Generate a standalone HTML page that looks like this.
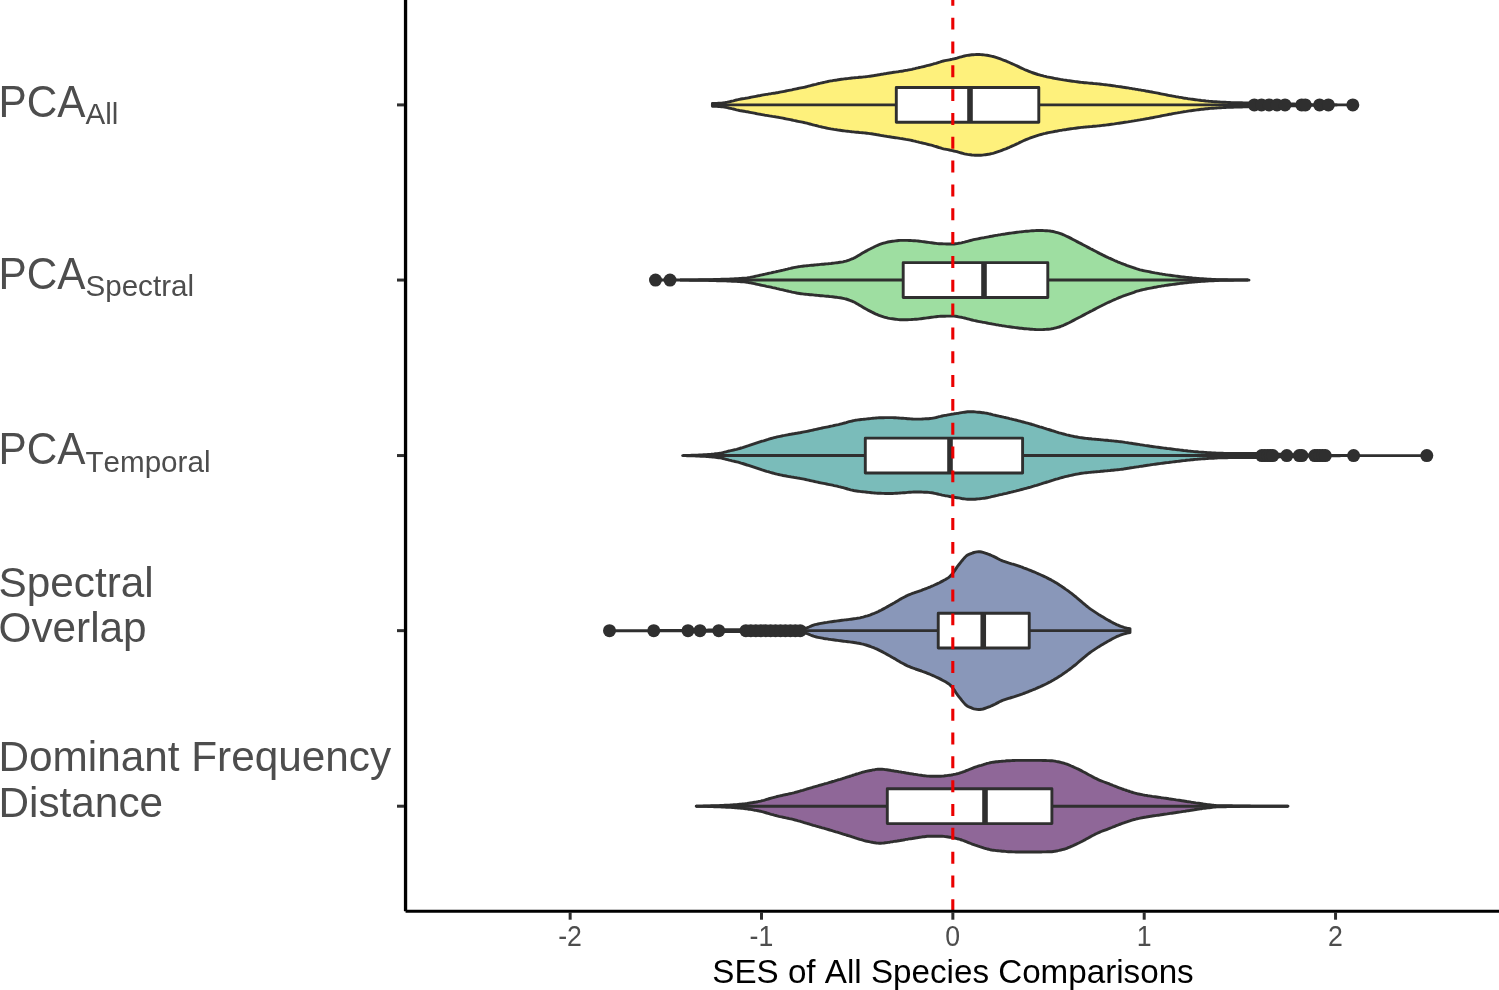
<!DOCTYPE html>
<html lang="en"><head><meta charset="utf-8"><title>SES of All Species Comparisons</title>
<style>
html,body{margin:0;padding:0;background:#fff;}
body{width:1499px;height:990px;overflow:hidden;}
svg{display:block;font-kerning:none;font-family:"Liberation Sans",sans-serif;}
.tk{font-size:26.7px;fill:#4D4D4D;}
.ttl{font-size:33.2px;fill:#000;}
.yl{font-size:42.3px;fill:#4D4D4D;}
.yl.sub{font-size:29.6px;}
</style></head><body>
<svg width="1499" height="990" viewBox="0 0 1499 990">
<rect width="1499" height="990" fill="#fff"/>
<path d="M712.4,103.5L713.9,103.5L715.4,103.4L716.9,103.4L718.4,103.3L719.9,103.2L721.4,103.1L722.9,102.9L724.4,102.8L725.9,102.5L727.4,102.2L728.9,101.8L730.4,101.5L731.9,101.1L733.4,100.8L734.9,100.4L736.4,100.0L737.9,99.7L739.4,99.3L740.9,99.0L742.4,98.8L743.9,98.6L745.4,98.3L746.9,98.1L748.4,97.8L749.9,97.5L751.4,97.2L752.9,96.9L754.4,96.6L755.9,96.3L757.4,96.0L758.9,95.7L760.4,95.5L761.9,95.2L763.4,94.9L764.9,94.6L766.4,94.4L767.9,94.2L769.4,93.9L770.9,93.7L772.4,93.4L773.9,93.2L775.4,93.0L776.9,92.7L778.4,92.5L779.9,92.2L781.4,91.9L782.9,91.6L784.4,91.3L785.9,91.0L787.4,90.7L788.9,90.4L790.4,90.1L791.9,89.8L793.4,89.4L794.9,89.1L796.4,88.8L797.9,88.5L799.4,88.2L800.9,87.9L802.4,87.6L803.9,87.3L805.4,87.0L806.9,86.6L808.4,86.2L809.9,85.8L811.4,85.4L812.9,85.0L814.4,84.6L815.9,84.3L817.4,83.9L818.9,83.5L820.4,83.2L821.9,82.8L823.4,82.5L824.9,82.2L826.4,81.8L827.9,81.5L829.4,81.2L830.9,80.9L832.4,80.7L833.9,80.4L835.4,80.2L836.9,80.0L838.4,79.7L839.9,79.5L841.4,79.3L842.9,79.1L844.4,78.9L845.9,78.7L847.4,78.6L848.9,78.4L850.4,78.2L851.9,78.0L853.4,77.9L854.9,77.7L856.4,77.6L857.9,77.5L859.4,77.3L860.9,77.2L862.4,77.1L863.9,76.9L865.4,76.8L866.9,76.6L868.4,76.4L869.9,76.2L871.4,76.0L872.9,75.8L874.4,75.5L875.9,75.3L877.4,75.0L878.9,74.8L880.4,74.5L881.9,74.2L883.4,74.0L884.9,73.7L886.4,73.5L887.9,73.2L889.4,73.0L890.9,72.8L892.4,72.5L893.9,72.3L895.4,72.1L896.9,71.9L898.4,71.7L899.9,71.4L901.4,71.2L902.9,71.0L904.4,70.7L905.9,70.4L907.4,70.2L908.9,69.9L910.4,69.6L911.9,69.3L913.4,68.9L914.9,68.6L916.4,68.2L917.9,67.9L919.4,67.5L920.9,67.2L922.4,66.8L923.9,66.5L925.4,66.1L926.9,65.7L928.4,65.3L929.9,65.0L931.4,64.6L932.9,64.2L934.4,63.7L935.9,63.3L937.4,62.8L938.9,62.3L940.4,61.9L941.9,61.4L943.4,61.0L944.9,60.7L946.4,60.4L947.9,60.1L949.4,59.8L950.9,59.5L952.4,59.2L953.9,58.8L955.4,58.5L956.9,58.1L958.4,57.6L959.9,57.2L961.4,56.8L962.9,56.4L964.4,56.0L965.9,55.7L967.4,55.4L968.9,55.2L970.4,55.0L971.9,54.8L973.4,54.7L974.9,54.6L976.4,54.5L977.9,54.5L979.4,54.5L980.9,54.6L982.4,54.7L983.9,54.9L985.4,55.1L986.9,55.3L988.4,55.5L989.9,55.8L991.4,56.2L992.9,56.5L994.4,56.9L995.9,57.4L997.4,57.9L998.9,58.4L1000.4,58.9L1001.9,59.5L1003.4,60.1L1004.9,60.6L1006.4,61.2L1007.9,61.9L1009.4,62.5L1010.9,63.2L1012.4,63.9L1013.9,64.5L1015.4,65.2L1016.9,65.9L1018.4,66.6L1019.9,67.4L1021.4,68.1L1022.9,68.8L1024.4,69.5L1025.9,70.1L1027.4,70.7L1028.9,71.3L1030.4,71.9L1031.9,72.5L1033.4,73.0L1034.9,73.5L1036.4,74.0L1037.9,74.5L1039.4,74.9L1040.9,75.3L1042.4,75.7L1043.9,76.1L1045.4,76.4L1046.9,76.8L1048.4,77.1L1049.9,77.4L1051.4,77.7L1052.9,78.0L1054.4,78.3L1055.9,78.6L1057.4,78.8L1058.9,79.1L1060.4,79.4L1061.9,79.6L1063.4,79.9L1064.9,80.1L1066.4,80.3L1067.9,80.6L1069.4,80.8L1070.9,81.0L1072.4,81.2L1073.9,81.4L1075.4,81.6L1076.9,81.8L1078.4,82.0L1079.9,82.2L1081.4,82.4L1082.9,82.5L1084.4,82.7L1085.9,82.8L1087.4,82.9L1088.9,83.1L1090.4,83.2L1091.9,83.3L1093.4,83.5L1094.9,83.6L1096.4,83.7L1097.9,83.9L1099.4,84.0L1100.9,84.2L1102.4,84.4L1103.9,84.6L1105.4,84.7L1106.9,84.9L1108.4,85.1L1109.9,85.3L1111.4,85.5L1112.9,85.7L1114.4,85.9L1115.9,86.2L1117.4,86.4L1118.9,86.6L1120.4,86.8L1121.9,87.0L1123.4,87.3L1124.9,87.5L1126.4,87.7L1127.9,87.9L1129.4,88.2L1130.9,88.4L1132.4,88.7L1133.9,88.9L1135.4,89.2L1136.9,89.4L1138.4,89.7L1139.9,89.9L1141.4,90.2L1142.9,90.4L1144.4,90.7L1145.9,91.0L1147.4,91.2L1148.9,91.5L1150.4,91.8L1151.9,92.0L1153.4,92.3L1154.9,92.6L1156.4,92.9L1157.9,93.2L1159.4,93.5L1160.9,93.8L1162.4,94.1L1163.9,94.4L1165.4,94.7L1166.9,95.0L1168.4,95.3L1169.9,95.6L1171.4,95.8L1172.9,96.1L1174.4,96.4L1175.9,96.7L1177.4,96.9L1178.9,97.2L1180.4,97.4L1181.9,97.7L1183.4,98.0L1184.9,98.2L1186.4,98.4L1187.9,98.7L1189.4,98.9L1190.9,99.1L1192.4,99.3L1193.9,99.5L1195.4,99.7L1196.9,99.9L1198.4,100.1L1199.9,100.3L1201.4,100.5L1202.9,100.6L1204.4,100.8L1205.9,101.0L1207.4,101.1L1208.9,101.3L1210.4,101.4L1211.9,101.5L1213.4,101.6L1214.9,101.7L1216.4,101.8L1217.9,101.9L1219.4,102.0L1220.9,102.1L1222.4,102.2L1223.9,102.3L1225.4,102.3L1226.9,102.4L1228.4,102.5L1229.9,102.5L1231.4,102.6L1232.9,102.6L1234.4,102.7L1235.9,102.7L1237.4,102.7L1238.9,102.8L1240.4,102.8L1241.9,102.8L1243.4,102.9L1244.9,102.9L1246.4,102.9L1247.9,103.0L1249.4,103.0L1250.9,103.0L1252.4,103.0L1253.9,103.1L1255.4,103.1L1256.9,103.1L1258.4,103.2L1259.9,103.2L1261.4,103.2L1262.9,103.3L1264.4,103.3L1265.9,103.3L1267.4,103.4L1268.9,103.4L1270.4,103.4L1271.9,103.5L1273.4,103.5L1274.9,103.5L1276.4,103.6L1277.9,103.6L1279.4,103.6L1280.9,103.7L1282.4,103.7L1283.9,103.8L1285.4,103.8L1286.9,103.8L1288.4,103.9L1289.9,103.9L1291.4,103.9L1292.9,104.0L1294.4,104.0L1295.9,104.1L1297.4,104.1L1298.9,104.2L1300.4,104.2L1301.9,104.3L1303.4,104.3L1304.9,104.4L1306.4,104.4L1307.9,104.4L1309.4,104.5L1310.9,104.5L1312.4,104.6L1313.9,104.6L1315.4,104.6L1316.9,104.7L1318.4,104.7L1319.9,104.7L1321.4,104.7L1322.9,104.7L1324.4,104.7L1325.9,104.8L1327.4,104.8L1328.9,104.8L1330.4,104.8L1331.9,104.8L1333.4,104.8L1334.9,104.8L1336.4,104.8L1337.9,104.9L1339.4,104.9L1340.9,104.9L1342.4,104.9L1343.9,104.9L1345.4,104.9L1346.9,104.9L1348.4,104.9L1349.9,104.9L1351.4,104.9L1352.5,104.9L1352.5,104.9L1351.4,104.9L1349.9,104.9L1348.4,104.9L1346.9,104.9L1345.4,104.9L1343.9,104.9L1342.4,104.9L1340.9,104.9L1339.4,104.9L1337.9,104.9L1336.4,105.0L1334.9,105.0L1333.4,105.0L1331.9,105.0L1330.4,105.0L1328.9,105.0L1327.4,105.0L1325.9,105.0L1324.4,105.1L1322.9,105.1L1321.4,105.1L1319.9,105.1L1318.4,105.1L1316.9,105.1L1315.4,105.2L1313.9,105.2L1312.4,105.2L1310.9,105.3L1309.4,105.3L1307.9,105.4L1306.4,105.4L1304.9,105.4L1303.4,105.5L1301.9,105.5L1300.4,105.6L1298.9,105.6L1297.4,105.7L1295.9,105.7L1294.4,105.8L1292.9,105.8L1291.4,105.9L1289.9,105.9L1288.4,105.9L1286.9,106.0L1285.4,106.0L1283.9,106.0L1282.4,106.1L1280.9,106.1L1279.4,106.2L1277.9,106.2L1276.4,106.2L1274.9,106.3L1273.4,106.3L1271.9,106.3L1270.4,106.4L1268.9,106.4L1267.4,106.4L1265.9,106.5L1264.4,106.5L1262.9,106.5L1261.4,106.6L1259.9,106.6L1258.4,106.6L1256.9,106.7L1255.4,106.7L1253.9,106.7L1252.4,106.8L1250.9,106.8L1249.4,106.8L1247.9,106.8L1246.4,106.9L1244.9,106.9L1243.4,106.9L1241.9,107.0L1240.4,107.0L1238.9,107.0L1237.4,107.1L1235.9,107.1L1234.4,107.1L1232.9,107.2L1231.4,107.2L1229.9,107.3L1228.4,107.3L1226.9,107.4L1225.4,107.5L1223.9,107.5L1222.4,107.6L1220.9,107.7L1219.4,107.8L1217.9,107.9L1216.4,108.0L1214.9,108.1L1213.4,108.2L1211.9,108.3L1210.4,108.4L1208.9,108.5L1207.4,108.7L1205.9,108.8L1204.4,109.0L1202.9,109.2L1201.4,109.3L1199.9,109.5L1198.4,109.7L1196.9,109.9L1195.4,110.1L1193.9,110.3L1192.4,110.5L1190.9,110.7L1189.4,110.9L1187.9,111.1L1186.4,111.4L1184.9,111.6L1183.4,111.8L1181.9,112.1L1180.4,112.4L1178.9,112.6L1177.4,112.9L1175.9,113.1L1174.4,113.4L1172.9,113.7L1171.4,114.0L1169.9,114.2L1168.4,114.5L1166.9,114.8L1165.4,115.1L1163.9,115.4L1162.4,115.7L1160.9,116.0L1159.4,116.3L1157.9,116.6L1156.4,116.9L1154.9,117.2L1153.4,117.5L1151.9,117.8L1150.4,118.0L1148.9,118.3L1147.4,118.6L1145.9,118.8L1144.4,119.1L1142.9,119.4L1141.4,119.6L1139.9,119.9L1138.4,120.1L1136.9,120.4L1135.4,120.6L1133.9,120.9L1132.4,121.1L1130.9,121.4L1129.4,121.6L1127.9,121.9L1126.4,122.1L1124.9,122.3L1123.4,122.5L1121.9,122.8L1120.4,123.0L1118.9,123.2L1117.4,123.4L1115.9,123.6L1114.4,123.9L1112.9,124.1L1111.4,124.3L1109.9,124.5L1108.4,124.7L1106.9,124.9L1105.4,125.1L1103.9,125.2L1102.4,125.4L1100.9,125.6L1099.4,125.8L1097.9,125.9L1096.4,126.1L1094.9,126.2L1093.4,126.3L1091.9,126.5L1090.4,126.6L1088.9,126.7L1087.4,126.9L1085.9,127.0L1084.4,127.1L1082.9,127.3L1081.4,127.4L1079.9,127.6L1078.4,127.8L1076.9,128.0L1075.4,128.2L1073.9,128.4L1072.4,128.6L1070.9,128.8L1069.4,129.0L1067.9,129.2L1066.4,129.5L1064.9,129.7L1063.4,129.9L1061.9,130.2L1060.4,130.4L1058.9,130.7L1057.4,131.0L1055.9,131.2L1054.4,131.5L1052.9,131.8L1051.4,132.1L1049.9,132.4L1048.4,132.7L1046.9,133.0L1045.4,133.4L1043.9,133.7L1042.4,134.1L1040.9,134.5L1039.4,134.9L1037.9,135.3L1036.4,135.8L1034.9,136.3L1033.4,136.8L1031.9,137.3L1030.4,137.9L1028.9,138.5L1027.4,139.1L1025.9,139.7L1024.4,140.3L1022.9,141.0L1021.4,141.7L1019.9,142.4L1018.4,143.2L1016.9,143.9L1015.4,144.6L1013.9,145.3L1012.4,145.9L1010.9,146.6L1009.4,147.3L1007.9,147.9L1006.4,148.6L1004.9,149.2L1003.4,149.7L1001.9,150.3L1000.4,150.9L998.9,151.4L997.4,151.9L995.9,152.4L994.4,152.9L992.9,153.3L991.4,153.6L989.9,154.0L988.4,154.3L986.9,154.5L985.4,154.7L983.9,154.9L982.4,155.1L980.9,155.2L979.4,155.3L977.9,155.3L976.4,155.3L974.9,155.2L973.4,155.1L971.9,155.0L970.4,154.8L968.9,154.6L967.4,154.4L965.9,154.1L964.4,153.8L962.9,153.4L961.4,153.0L959.9,152.6L958.4,152.2L956.9,151.7L955.4,151.3L953.9,151.0L952.4,150.6L950.9,150.3L949.4,150.0L947.9,149.7L946.4,149.4L944.9,149.1L943.4,148.8L941.9,148.4L940.4,147.9L938.9,147.5L937.4,147.0L935.9,146.5L934.4,146.1L932.9,145.6L931.4,145.2L929.9,144.8L928.4,144.5L926.9,144.1L925.4,143.7L923.9,143.3L922.4,143.0L920.9,142.6L919.4,142.3L917.9,141.9L916.4,141.6L914.9,141.2L913.4,140.9L911.9,140.5L910.4,140.2L908.9,139.9L907.4,139.6L905.9,139.4L904.4,139.1L902.9,138.8L901.4,138.6L899.9,138.4L898.4,138.1L896.9,137.9L895.4,137.7L893.9,137.5L892.4,137.3L890.9,137.0L889.4,136.8L887.9,136.6L886.4,136.3L884.9,136.1L883.4,135.8L881.9,135.6L880.4,135.3L878.9,135.0L877.4,134.8L875.9,134.5L874.4,134.3L872.9,134.0L871.4,133.8L869.9,133.6L868.4,133.4L866.9,133.2L865.4,133.0L863.9,132.9L862.4,132.7L860.9,132.6L859.4,132.5L857.9,132.3L856.4,132.2L854.9,132.1L853.4,131.9L851.9,131.8L850.4,131.6L848.9,131.4L847.4,131.2L845.9,131.1L844.4,130.9L842.9,130.7L841.4,130.5L839.9,130.3L838.4,130.1L836.9,129.8L835.4,129.6L833.9,129.4L832.4,129.1L830.9,128.9L829.4,128.6L827.9,128.3L826.4,128.0L824.9,127.6L823.4,127.3L821.9,127.0L820.4,126.6L818.9,126.3L817.4,125.9L815.9,125.5L814.4,125.2L812.9,124.8L811.4,124.4L809.9,124.0L808.4,123.6L806.9,123.2L805.4,122.8L803.9,122.5L802.4,122.2L800.9,121.9L799.4,121.6L797.9,121.3L796.4,121.0L794.9,120.7L793.4,120.4L791.9,120.0L790.4,119.7L788.9,119.4L787.4,119.1L785.9,118.8L784.4,118.5L782.9,118.2L781.4,117.9L779.9,117.6L778.4,117.3L776.9,117.1L775.4,116.8L773.9,116.6L772.4,116.4L770.9,116.1L769.4,115.9L767.9,115.6L766.4,115.4L764.9,115.2L763.4,114.9L761.9,114.6L760.4,114.3L758.9,114.1L757.4,113.8L755.9,113.5L754.4,113.2L752.9,112.9L751.4,112.6L749.9,112.3L748.4,112.0L746.9,111.7L745.4,111.5L743.9,111.2L742.4,111.0L740.9,110.8L739.4,110.5L737.9,110.1L736.4,109.8L734.9,109.4L733.4,109.0L731.9,108.7L730.4,108.3L728.9,108.0L727.4,107.6L725.9,107.3L724.4,107.0L722.9,106.9L721.4,106.7L719.9,106.6L718.4,106.5L716.9,106.4L715.4,106.4L713.9,106.3L712.4,106.3Z" fill="#FEF17C" stroke="#2F2F2F" stroke-width="2.9" stroke-linejoin="round"/>
<path d="M712.5,104.9H896.3M1038.8,104.9H1250" stroke="#2F2F2F" stroke-width="2.9" fill="none"/>
<rect x="896.3" y="87.50" width="142.50" height="34.8" fill="#fff" stroke="#2F2F2F" stroke-width="2.9" stroke-linejoin="round"/>
<path d="M970.0,87.50V122.30" stroke="#2F2F2F" stroke-width="5.6"/>
<circle cx="1254.3" cy="104.9" r="6.5" fill="#2F2F2F"/>
<circle cx="1261.5" cy="104.9" r="6.5" fill="#2F2F2F"/>
<circle cx="1269" cy="104.9" r="6.5" fill="#2F2F2F"/>
<circle cx="1277" cy="104.9" r="6.5" fill="#2F2F2F"/>
<circle cx="1285" cy="104.9" r="6.5" fill="#2F2F2F"/>
<circle cx="1301.7" cy="104.9" r="6.5" fill="#2F2F2F"/>
<circle cx="1305.3" cy="104.9" r="6.5" fill="#2F2F2F"/>
<circle cx="1319.6" cy="104.9" r="6.5" fill="#2F2F2F"/>
<circle cx="1328.4" cy="104.9" r="6.5" fill="#2F2F2F"/>
<circle cx="1352.8" cy="104.9" r="6.5" fill="#2F2F2F"/>
<path d="M655.5,280.1L657.0,280.0L658.5,280.0L660.0,280.0L661.5,280.0L663.0,280.0L664.5,280.0L666.0,280.0L667.5,280.0L669.0,280.0L670.5,280.0L672.0,280.0L673.5,280.0L675.0,280.0L676.5,280.0L678.0,280.0L679.5,280.0L681.0,280.0L682.5,280.0L684.0,280.0L685.5,280.0L687.0,280.0L688.5,280.0L690.0,279.9L691.5,279.9L693.0,279.9L694.5,279.9L696.0,279.9L697.5,279.9L699.0,279.8L700.5,279.8L702.0,279.8L703.5,279.7L705.0,279.7L706.5,279.7L708.0,279.7L709.5,279.6L711.0,279.6L712.5,279.6L714.0,279.5L715.5,279.5L717.0,279.4L718.5,279.4L720.0,279.4L721.5,279.3L723.0,279.3L724.5,279.2L726.0,279.2L727.5,279.1L729.0,279.1L730.5,279.0L732.0,278.9L733.5,278.9L735.0,278.8L736.5,278.7L738.0,278.6L739.5,278.5L741.0,278.4L742.5,278.3L744.0,278.2L745.5,278.1L747.0,277.9L748.5,277.6L750.0,277.4L751.5,277.1L753.0,276.8L754.5,276.5L756.0,276.1L757.5,275.8L759.0,275.5L760.5,275.1L762.0,274.8L763.5,274.5L765.0,274.2L766.5,273.8L768.0,273.5L769.5,273.2L771.0,272.9L772.5,272.5L774.0,272.2L775.5,271.9L777.0,271.5L778.5,271.2L780.0,270.8L781.5,270.5L783.0,270.2L784.5,269.8L786.0,269.4L787.5,269.1L789.0,268.7L790.5,268.4L792.0,268.0L793.5,267.7L795.0,267.4L796.5,267.1L798.0,266.8L799.5,266.6L801.0,266.4L802.5,266.2L804.0,266.0L805.5,265.9L807.0,265.7L808.5,265.6L810.0,265.4L811.5,265.3L813.0,265.2L814.5,265.0L816.0,264.9L817.5,264.7L819.0,264.6L820.5,264.4L822.0,264.3L823.5,264.2L825.0,264.0L826.5,263.9L828.0,263.8L829.5,263.6L831.0,263.5L832.5,263.3L834.0,263.1L835.5,262.9L837.0,262.8L838.5,262.5L840.0,262.3L841.5,262.1L843.0,261.8L844.5,261.4L846.0,261.1L847.5,260.6L849.0,260.1L850.5,259.5L852.0,258.9L853.5,258.3L855.0,257.6L856.5,256.7L858.0,255.8L859.5,254.9L861.0,254.0L862.5,253.1L864.0,252.2L865.5,251.4L867.0,250.6L868.5,249.7L870.0,249.0L871.5,248.2L873.0,247.5L874.5,246.7L876.0,246.0L877.5,245.4L879.0,244.7L880.5,244.2L882.0,243.7L883.5,243.2L885.0,242.8L886.5,242.4L888.0,242.0L889.5,241.7L891.0,241.5L892.5,241.3L894.0,241.1L895.5,240.9L897.0,240.7L898.5,240.5L900.0,240.4L901.5,240.4L903.0,240.4L904.5,240.4L906.0,240.4L907.5,240.4L909.0,240.5L910.5,240.5L912.0,240.6L913.5,240.7L915.0,240.8L916.5,240.9L918.0,241.0L919.5,241.2L921.0,241.4L922.5,241.6L924.0,241.8L925.5,242.0L927.0,242.2L928.5,242.4L930.0,242.6L931.5,242.8L933.0,243.0L934.5,243.2L936.0,243.4L937.5,243.6L939.0,243.7L940.5,243.8L942.0,243.8L943.5,243.9L945.0,243.9L946.5,244.0L948.0,244.0L949.5,244.0L951.0,244.0L952.5,244.0L954.0,244.0L955.5,243.8L957.0,243.6L958.5,243.3L960.0,243.1L961.5,242.8L963.0,242.4L964.5,242.1L966.0,241.7L967.5,241.3L969.0,240.9L970.5,240.5L972.0,240.1L973.5,239.7L975.0,239.4L976.5,239.1L978.0,238.8L979.5,238.5L981.0,238.2L982.5,237.9L984.0,237.7L985.5,237.4L987.0,237.1L988.5,236.8L990.0,236.5L991.5,236.3L993.0,236.0L994.5,235.7L996.0,235.4L997.5,235.2L999.0,234.9L1000.5,234.7L1002.0,234.4L1003.5,234.2L1005.0,234.0L1006.5,233.7L1008.0,233.5L1009.5,233.3L1011.0,233.1L1012.5,232.9L1014.0,232.7L1015.5,232.5L1017.0,232.3L1018.5,232.1L1020.0,231.9L1021.5,231.8L1023.0,231.6L1024.5,231.4L1026.0,231.3L1027.5,231.2L1029.0,231.1L1030.5,230.9L1032.0,230.8L1033.5,230.7L1035.0,230.6L1036.5,230.5L1038.0,230.5L1039.5,230.5L1041.0,230.5L1042.5,230.5L1044.0,230.6L1045.5,230.7L1047.0,230.8L1048.5,230.9L1050.0,231.0L1051.5,231.3L1053.0,231.5L1054.5,231.9L1056.0,232.3L1057.5,232.7L1059.0,233.1L1060.5,233.6L1062.0,234.2L1063.5,234.8L1065.0,235.5L1066.5,236.2L1068.0,236.9L1069.5,237.6L1071.0,238.4L1072.5,239.2L1074.0,240.0L1075.5,240.8L1077.0,241.6L1078.5,242.4L1080.0,243.1L1081.5,243.9L1083.0,244.7L1084.5,245.5L1086.0,246.3L1087.5,247.1L1089.0,247.9L1090.5,248.7L1092.0,249.4L1093.5,250.2L1095.0,251.0L1096.5,251.8L1098.0,252.6L1099.5,253.4L1101.0,254.1L1102.5,254.9L1104.0,255.6L1105.5,256.4L1107.0,257.1L1108.5,257.8L1110.0,258.4L1111.5,259.1L1113.0,259.8L1114.5,260.5L1116.0,261.1L1117.5,261.8L1119.0,262.4L1120.5,263.0L1122.0,263.6L1123.5,264.2L1125.0,264.7L1126.5,265.3L1128.0,265.8L1129.5,266.3L1131.0,266.8L1132.5,267.3L1134.0,267.8L1135.5,268.4L1137.0,268.9L1138.5,269.3L1140.0,269.8L1141.5,270.1L1143.0,270.5L1144.5,270.8L1146.0,271.1L1147.5,271.4L1149.0,271.7L1150.5,272.0L1152.0,272.3L1153.5,272.6L1155.0,272.9L1156.5,273.1L1158.0,273.4L1159.5,273.7L1161.0,273.9L1162.5,274.2L1164.0,274.4L1165.5,274.7L1167.0,274.9L1168.5,275.1L1170.0,275.3L1171.5,275.5L1173.0,275.7L1174.5,275.9L1176.0,276.1L1177.5,276.3L1179.0,276.5L1180.5,276.7L1182.0,276.9L1183.5,277.0L1185.0,277.2L1186.5,277.4L1188.0,277.5L1189.5,277.7L1191.0,277.8L1192.5,278.0L1194.0,278.1L1195.5,278.2L1197.0,278.4L1198.5,278.5L1200.0,278.6L1201.5,278.7L1203.0,278.8L1204.5,278.9L1206.0,279.0L1207.5,279.1L1209.0,279.2L1210.5,279.3L1212.0,279.4L1213.5,279.4L1215.0,279.5L1216.5,279.6L1218.0,279.6L1219.5,279.7L1221.0,279.7L1222.5,279.8L1224.0,279.8L1225.5,279.8L1227.0,279.8L1228.5,279.9L1230.0,279.9L1231.5,279.9L1233.0,279.9L1234.5,280.0L1236.0,280.0L1237.5,280.0L1239.0,280.0L1240.5,280.0L1242.0,280.0L1243.5,280.0L1245.0,280.0L1246.5,280.0L1248.0,280.0L1249.0,280.1L1249.0,280.1L1248.0,280.1L1246.5,280.1L1245.0,280.1L1243.5,280.1L1242.0,280.1L1240.5,280.1L1239.0,280.1L1237.5,280.1L1236.0,280.1L1234.5,280.1L1233.0,280.2L1231.5,280.2L1230.0,280.2L1228.5,280.2L1227.0,280.3L1225.5,280.3L1224.0,280.3L1222.5,280.3L1221.0,280.4L1219.5,280.4L1218.0,280.5L1216.5,280.5L1215.0,280.6L1213.5,280.7L1212.0,280.7L1210.5,280.8L1209.0,280.9L1207.5,281.0L1206.0,281.1L1204.5,281.2L1203.0,281.3L1201.5,281.4L1200.0,281.5L1198.5,281.6L1197.0,281.7L1195.5,281.9L1194.0,282.0L1192.5,282.1L1191.0,282.3L1189.5,282.4L1188.0,282.6L1186.5,282.7L1185.0,282.9L1183.5,283.1L1182.0,283.2L1180.5,283.4L1179.0,283.6L1177.5,283.8L1176.0,284.0L1174.5,284.2L1173.0,284.4L1171.5,284.6L1170.0,284.8L1168.5,285.0L1167.0,285.2L1165.5,285.4L1164.0,285.7L1162.5,285.9L1161.0,286.2L1159.5,286.4L1158.0,286.7L1156.5,287.0L1155.0,287.2L1153.5,287.5L1152.0,287.8L1150.5,288.1L1149.0,288.4L1147.5,288.7L1146.0,289.0L1144.5,289.3L1143.0,289.6L1141.5,290.0L1140.0,290.4L1138.5,290.8L1137.0,291.2L1135.5,291.7L1134.0,292.3L1132.5,292.8L1131.0,293.3L1129.5,293.8L1128.0,294.3L1126.5,294.8L1125.0,295.4L1123.5,295.9L1122.0,296.5L1120.5,297.1L1119.0,297.7L1117.5,298.3L1116.0,299.0L1114.5,299.6L1113.0,300.3L1111.5,301.0L1110.0,301.7L1108.5,302.3L1107.0,303.0L1105.5,303.7L1104.0,304.5L1102.5,305.2L1101.0,306.0L1099.5,306.7L1098.0,307.5L1096.5,308.3L1095.0,309.1L1093.5,309.9L1092.0,310.7L1090.5,311.4L1089.0,312.2L1087.5,313.0L1086.0,313.8L1084.5,314.6L1083.0,315.4L1081.5,316.2L1080.0,317.0L1078.5,317.7L1077.0,318.5L1075.5,319.3L1074.0,320.1L1072.5,320.9L1071.0,321.7L1069.5,322.5L1068.0,323.2L1066.5,323.9L1065.0,324.6L1063.5,325.3L1062.0,325.9L1060.5,326.5L1059.0,327.0L1057.5,327.4L1056.0,327.8L1054.5,328.2L1053.0,328.6L1051.5,328.8L1050.0,329.1L1048.5,329.2L1047.0,329.3L1045.5,329.4L1044.0,329.5L1042.5,329.6L1041.0,329.6L1039.5,329.6L1038.0,329.6L1036.5,329.6L1035.0,329.5L1033.5,329.4L1032.0,329.3L1030.5,329.2L1029.0,329.0L1027.5,328.9L1026.0,328.8L1024.5,328.7L1023.0,328.5L1021.5,328.3L1020.0,328.2L1018.5,328.0L1017.0,327.8L1015.5,327.6L1014.0,327.4L1012.5,327.2L1011.0,327.0L1009.5,326.8L1008.0,326.6L1006.5,326.4L1005.0,326.1L1003.5,325.9L1002.0,325.7L1000.5,325.4L999.0,325.2L997.5,324.9L996.0,324.7L994.5,324.4L993.0,324.1L991.5,323.8L990.0,323.6L988.5,323.3L987.0,323.0L985.5,322.7L984.0,322.4L982.5,322.2L981.0,321.9L979.5,321.6L978.0,321.3L976.5,321.0L975.0,320.7L973.5,320.4L972.0,320.0L970.5,319.6L969.0,319.2L967.5,318.8L966.0,318.4L964.5,318.0L963.0,317.7L961.5,317.3L960.0,317.1L958.5,316.8L957.0,316.5L955.5,316.3L954.0,316.1L952.5,316.1L951.0,316.1L949.5,316.1L948.0,316.1L946.5,316.1L945.0,316.2L943.5,316.2L942.0,316.3L940.5,316.3L939.0,316.4L937.5,316.5L936.0,316.7L934.5,316.9L933.0,317.1L931.5,317.3L930.0,317.5L928.5,317.7L927.0,317.9L925.5,318.1L924.0,318.3L922.5,318.5L921.0,318.7L919.5,318.9L918.0,319.1L916.5,319.2L915.0,319.3L913.5,319.4L912.0,319.5L910.5,319.6L909.0,319.6L907.5,319.7L906.0,319.7L904.5,319.7L903.0,319.7L901.5,319.7L900.0,319.7L898.5,319.6L897.0,319.4L895.5,319.2L894.0,319.0L892.5,318.8L891.0,318.6L889.5,318.4L888.0,318.1L886.5,317.7L885.0,317.3L883.5,316.9L882.0,316.4L880.5,315.9L879.0,315.4L877.5,314.7L876.0,314.1L874.5,313.4L873.0,312.6L871.5,311.9L870.0,311.1L868.5,310.4L867.0,309.5L865.5,308.7L864.0,307.9L862.5,307.0L861.0,306.1L859.5,305.2L858.0,304.3L856.5,303.4L855.0,302.5L853.5,301.8L852.0,301.2L850.5,300.6L849.0,300.0L847.5,299.5L846.0,299.0L844.5,298.7L843.0,298.3L841.5,298.0L840.0,297.8L838.5,297.6L837.0,297.3L835.5,297.2L834.0,297.0L832.5,296.8L831.0,296.6L829.5,296.5L828.0,296.3L826.5,296.2L825.0,296.1L823.5,295.9L822.0,295.8L820.5,295.7L819.0,295.5L817.5,295.4L816.0,295.2L814.5,295.1L813.0,294.9L811.5,294.8L810.0,294.7L808.5,294.5L807.0,294.4L805.5,294.2L804.0,294.1L802.5,293.9L801.0,293.7L799.5,293.5L798.0,293.3L796.5,293.0L795.0,292.7L793.5,292.4L792.0,292.1L790.5,291.7L789.0,291.4L787.5,291.0L786.0,290.7L784.5,290.3L783.0,289.9L781.5,289.6L780.0,289.3L778.5,288.9L777.0,288.6L775.5,288.2L774.0,287.9L772.5,287.6L771.0,287.2L769.5,286.9L768.0,286.6L766.5,286.3L765.0,285.9L763.5,285.6L762.0,285.3L760.5,285.0L759.0,284.6L757.5,284.3L756.0,284.0L754.5,283.6L753.0,283.3L751.5,283.0L750.0,282.7L748.5,282.5L747.0,282.2L745.5,282.0L744.0,281.9L742.5,281.8L741.0,281.7L739.5,281.6L738.0,281.5L736.5,281.4L735.0,281.3L733.5,281.2L732.0,281.2L730.5,281.1L729.0,281.0L727.5,281.0L726.0,280.9L724.5,280.9L723.0,280.8L721.5,280.8L720.0,280.7L718.5,280.7L717.0,280.7L715.5,280.6L714.0,280.6L712.5,280.5L711.0,280.5L709.5,280.5L708.0,280.4L706.5,280.4L705.0,280.4L703.5,280.4L702.0,280.3L700.5,280.3L699.0,280.3L697.5,280.2L696.0,280.2L694.5,280.2L693.0,280.2L691.5,280.2L690.0,280.2L688.5,280.1L687.0,280.1L685.5,280.1L684.0,280.1L682.5,280.1L681.0,280.1L679.5,280.1L678.0,280.1L676.5,280.1L675.0,280.1L673.5,280.1L672.0,280.1L670.5,280.1L669.0,280.1L667.5,280.1L666.0,280.1L664.5,280.1L663.0,280.1L661.5,280.1L660.0,280.1L658.5,280.1L657.0,280.1L655.5,280.1Z" fill="#9EDEA1" stroke="#2F2F2F" stroke-width="2.9" stroke-linejoin="round"/>
<path d="M680,280.05H903.2M1047.8,280.05H1248" stroke="#2F2F2F" stroke-width="2.9" fill="none"/>
<rect x="903.2" y="262.65" width="144.60" height="34.8" fill="#fff" stroke="#2F2F2F" stroke-width="2.9" stroke-linejoin="round"/>
<path d="M984.0,262.65V297.45" stroke="#2F2F2F" stroke-width="5.6"/>
<circle cx="655.5" cy="280.05" r="6.5" fill="#2F2F2F"/>
<circle cx="670" cy="280.05" r="6.5" fill="#2F2F2F"/>
<path d="M682.6,455.6L684.1,455.5L685.6,455.5L687.1,455.4L688.6,455.4L690.1,455.4L691.6,455.3L693.1,455.3L694.6,455.2L696.1,455.1L697.6,455.1L699.1,455.0L700.6,454.9L702.1,454.9L703.6,454.8L705.1,454.7L706.6,454.6L708.1,454.5L709.6,454.4L711.1,454.3L712.6,454.1L714.1,454.0L715.6,453.8L717.1,453.6L718.6,453.4L720.1,453.2L721.6,453.0L723.1,452.6L724.6,452.2L726.1,451.8L727.6,451.4L729.1,451.0L730.6,450.7L732.1,450.3L733.6,450.0L735.1,449.6L736.6,449.3L738.1,448.9L739.6,448.5L741.1,448.0L742.6,447.6L744.1,447.1L745.6,446.6L747.1,446.1L748.6,445.7L750.1,445.2L751.6,444.7L753.1,444.2L754.6,443.7L756.1,443.2L757.6,442.7L759.1,442.2L760.6,441.7L762.1,441.2L763.6,440.8L765.1,440.3L766.6,439.8L768.1,439.4L769.6,438.9L771.1,438.5L772.6,438.1L774.1,437.7L775.6,437.3L777.1,436.9L778.6,436.6L780.1,436.3L781.6,436.0L783.1,435.6L784.6,435.4L786.1,435.1L787.6,434.8L789.1,434.5L790.6,434.3L792.1,434.0L793.6,433.8L795.1,433.5L796.6,433.3L798.1,433.0L799.6,432.8L801.1,432.5L802.6,432.2L804.1,431.9L805.6,431.6L807.1,431.3L808.6,431.0L810.1,430.6L811.6,430.3L813.1,430.0L814.6,429.6L816.1,429.3L817.6,429.0L819.1,428.6L820.6,428.3L822.1,428.0L823.6,427.7L825.1,427.4L826.6,427.1L828.1,426.8L829.6,426.5L831.1,426.2L832.6,425.9L834.1,425.5L835.6,425.2L837.1,424.9L838.6,424.6L840.1,424.2L841.6,423.8L843.1,423.4L844.6,423.0L846.1,422.6L847.6,422.1L849.1,421.7L850.6,421.3L852.1,421.0L853.6,420.6L855.1,420.3L856.6,420.1L858.1,419.9L859.6,419.7L861.1,419.5L862.6,419.4L864.1,419.2L865.6,419.1L867.1,418.9L868.6,418.7L870.1,418.6L871.6,418.4L873.1,418.2L874.6,418.1L876.1,418.0L877.6,417.9L879.1,417.8L880.6,417.8L882.1,417.7L883.6,417.7L885.1,417.6L886.6,417.6L888.1,417.6L889.6,417.6L891.1,417.6L892.6,417.6L894.1,417.7L895.6,417.8L897.1,417.9L898.6,418.0L900.1,418.1L901.6,418.2L903.1,418.3L904.6,418.4L906.1,418.5L907.6,418.7L909.1,418.8L910.6,418.9L912.1,419.0L913.6,419.1L915.1,419.1L916.6,419.1L918.1,419.1L919.6,419.1L921.1,419.1L922.6,419.0L924.1,418.9L925.6,418.8L927.1,418.8L928.6,418.7L930.1,418.5L931.6,418.4L933.1,418.1L934.6,417.8L936.1,417.5L937.6,417.1L939.1,416.7L940.6,416.4L942.1,416.0L943.6,415.7L945.1,415.4L946.6,415.2L948.1,414.9L949.6,414.6L951.1,414.3L952.6,414.1L954.1,413.8L955.6,413.6L957.1,413.4L958.6,413.2L960.1,412.9L961.6,412.6L963.1,412.4L964.6,412.2L966.1,412.0L967.6,411.8L969.1,411.8L970.6,411.8L972.1,411.8L973.6,411.8L975.1,411.9L976.6,412.1L978.1,412.2L979.6,412.3L981.1,412.5L982.6,412.7L984.1,412.8L985.6,413.1L987.1,413.3L988.6,413.7L990.1,414.0L991.6,414.4L993.1,414.8L994.6,415.1L996.1,415.5L997.6,415.8L999.1,416.2L1000.6,416.5L1002.1,416.8L1003.6,417.2L1005.1,417.5L1006.6,417.8L1008.1,418.2L1009.6,418.6L1011.1,418.9L1012.6,419.3L1014.1,419.7L1015.6,420.0L1017.1,420.4L1018.6,420.8L1020.1,421.2L1021.6,421.6L1023.1,422.0L1024.6,422.4L1026.1,422.8L1027.6,423.2L1029.1,423.6L1030.6,424.0L1032.1,424.5L1033.6,424.9L1035.1,425.4L1036.6,425.8L1038.1,426.3L1039.6,426.8L1041.1,427.2L1042.6,427.7L1044.1,428.2L1045.6,428.6L1047.1,429.1L1048.6,429.5L1050.1,430.0L1051.6,430.5L1053.1,430.9L1054.6,431.4L1056.1,431.9L1057.6,432.3L1059.1,432.8L1060.6,433.2L1062.1,433.6L1063.6,434.0L1065.1,434.4L1066.6,434.8L1068.1,435.1L1069.6,435.5L1071.1,435.8L1072.6,436.1L1074.1,436.5L1075.6,436.8L1077.1,437.0L1078.6,437.3L1080.1,437.6L1081.6,437.8L1083.1,438.0L1084.6,438.2L1086.1,438.4L1087.6,438.5L1089.1,438.7L1090.6,438.8L1092.1,439.0L1093.6,439.1L1095.1,439.2L1096.6,439.4L1098.1,439.5L1099.6,439.6L1101.1,439.8L1102.6,439.9L1104.1,440.1L1105.6,440.2L1107.1,440.3L1108.6,440.5L1110.1,440.6L1111.6,440.8L1113.1,440.9L1114.6,441.1L1116.1,441.2L1117.6,441.4L1119.1,441.6L1120.6,441.7L1122.1,441.9L1123.6,442.1L1125.1,442.4L1126.6,442.6L1128.1,442.8L1129.6,443.1L1131.1,443.3L1132.6,443.5L1134.1,443.8L1135.6,444.0L1137.1,444.2L1138.6,444.4L1140.1,444.7L1141.6,444.9L1143.1,445.1L1144.6,445.4L1146.1,445.6L1147.6,445.8L1149.1,446.0L1150.6,446.3L1152.1,446.5L1153.6,446.7L1155.1,446.9L1156.6,447.1L1158.1,447.3L1159.6,447.5L1161.1,447.7L1162.6,447.9L1164.1,448.1L1165.6,448.3L1167.1,448.5L1168.6,448.6L1170.1,448.8L1171.6,449.0L1173.1,449.2L1174.6,449.4L1176.1,449.6L1177.6,449.7L1179.1,449.9L1180.6,450.1L1182.1,450.3L1183.6,450.5L1185.1,450.6L1186.6,450.8L1188.1,451.0L1189.6,451.1L1191.1,451.3L1192.6,451.4L1194.1,451.6L1195.6,451.7L1197.1,451.8L1198.6,452.0L1200.1,452.1L1201.6,452.2L1203.1,452.3L1204.6,452.4L1206.1,452.5L1207.6,452.6L1209.1,452.7L1210.6,452.8L1212.1,452.9L1213.6,452.9L1215.1,453.0L1216.6,453.1L1218.1,453.2L1219.6,453.2L1221.1,453.3L1222.6,453.3L1224.1,453.4L1225.6,453.4L1227.1,453.4L1228.6,453.5L1230.1,453.5L1231.6,453.5L1233.1,453.5L1234.6,453.5L1236.1,453.5L1237.6,453.5L1239.1,453.5L1240.6,453.5L1242.1,453.5L1243.6,453.5L1245.1,453.5L1246.6,453.5L1248.1,453.5L1249.6,453.5L1251.1,453.5L1252.6,453.5L1254.1,453.5L1255.6,453.5L1257.1,453.5L1258.6,453.6L1260.1,453.6L1261.6,453.6L1263.1,453.6L1264.6,453.7L1266.1,453.7L1267.6,453.7L1269.1,453.8L1270.6,453.9L1272.1,453.9L1273.6,454.0L1275.1,454.0L1276.6,454.1L1278.1,454.1L1279.6,454.2L1281.1,454.2L1282.6,454.3L1284.1,454.3L1285.6,454.4L1287.1,454.4L1288.6,454.4L1290.1,454.5L1291.6,454.5L1293.1,454.6L1294.6,454.6L1296.1,454.6L1297.6,454.7L1299.1,454.7L1300.6,454.8L1302.1,454.8L1303.6,454.8L1305.1,454.9L1306.6,454.9L1308.1,455.0L1309.6,455.0L1311.1,455.0L1312.6,455.1L1314.1,455.1L1315.6,455.1L1317.1,455.2L1318.6,455.2L1320.1,455.2L1321.6,455.2L1323.1,455.3L1324.6,455.3L1326.1,455.3L1327.6,455.3L1329.1,455.3L1330.6,455.4L1332.1,455.4L1333.6,455.4L1335.1,455.4L1336.6,455.4L1338.1,455.4L1339.6,455.4L1341.1,455.5L1342.6,455.5L1344.1,455.5L1345.6,455.5L1347.1,455.5L1348.6,455.5L1350.1,455.5L1351.6,455.5L1353.1,455.5L1354.6,455.5L1356.1,455.5L1357.6,455.5L1359.1,455.5L1360.6,455.6L1362.1,455.6L1363.6,455.6L1365.1,455.6L1366.6,455.6L1368.1,455.6L1369.6,455.6L1371.1,455.6L1372.6,455.6L1374.1,455.6L1375.6,455.6L1377.1,455.6L1378.6,455.6L1380.1,455.6L1381.6,455.6L1383.1,455.6L1384.6,455.6L1386.1,455.6L1387.6,455.6L1389.1,455.6L1390.6,455.6L1392.1,455.6L1393.6,455.6L1395.1,455.6L1396.6,455.6L1398.1,455.6L1399.6,455.6L1401.1,455.6L1402.6,455.6L1404.1,455.6L1405.6,455.6L1407.1,455.6L1408.6,455.6L1410.1,455.6L1411.6,455.6L1413.1,455.6L1414.6,455.6L1416.1,455.6L1417.6,455.6L1419.1,455.6L1420.6,455.6L1422.1,455.6L1423.6,455.6L1425.1,455.6L1426.6,455.6L1426.8,455.6L1426.8,455.6L1426.6,455.6L1425.1,455.6L1423.6,455.6L1422.1,455.6L1420.6,455.6L1419.1,455.6L1417.6,455.6L1416.1,455.6L1414.6,455.6L1413.1,455.6L1411.6,455.6L1410.1,455.6L1408.6,455.6L1407.1,455.6L1405.6,455.6L1404.1,455.6L1402.6,455.6L1401.1,455.6L1399.6,455.6L1398.1,455.6L1396.6,455.6L1395.1,455.6L1393.6,455.6L1392.1,455.6L1390.6,455.6L1389.1,455.6L1387.6,455.6L1386.1,455.6L1384.6,455.6L1383.1,455.6L1381.6,455.6L1380.1,455.6L1378.6,455.6L1377.1,455.6L1375.6,455.6L1374.1,455.6L1372.6,455.6L1371.1,455.6L1369.6,455.6L1368.1,455.6L1366.6,455.6L1365.1,455.6L1363.6,455.6L1362.1,455.6L1360.6,455.6L1359.1,455.6L1357.6,455.6L1356.1,455.6L1354.6,455.6L1353.1,455.6L1351.6,455.6L1350.1,455.6L1348.6,455.6L1347.1,455.6L1345.6,455.6L1344.1,455.6L1342.6,455.6L1341.1,455.6L1339.6,455.7L1338.1,455.7L1336.6,455.7L1335.1,455.7L1333.6,455.7L1332.1,455.7L1330.6,455.7L1329.1,455.8L1327.6,455.8L1326.1,455.8L1324.6,455.8L1323.1,455.8L1321.6,455.9L1320.1,455.9L1318.6,455.9L1317.1,455.9L1315.6,456.0L1314.1,456.0L1312.6,456.0L1311.1,456.1L1309.6,456.1L1308.1,456.1L1306.6,456.2L1305.1,456.2L1303.6,456.3L1302.1,456.3L1300.6,456.3L1299.1,456.4L1297.6,456.4L1296.1,456.5L1294.6,456.5L1293.1,456.5L1291.6,456.6L1290.1,456.6L1288.6,456.7L1287.1,456.7L1285.6,456.7L1284.1,456.8L1282.6,456.8L1281.1,456.9L1279.6,456.9L1278.1,457.0L1276.6,457.0L1275.1,457.1L1273.6,457.1L1272.1,457.2L1270.6,457.2L1269.1,457.3L1267.6,457.4L1266.1,457.4L1264.6,457.4L1263.1,457.5L1261.6,457.5L1260.1,457.5L1258.6,457.5L1257.1,457.6L1255.6,457.6L1254.1,457.6L1252.6,457.6L1251.1,457.6L1249.6,457.6L1248.1,457.6L1246.6,457.6L1245.1,457.6L1243.6,457.6L1242.1,457.6L1240.6,457.6L1239.1,457.6L1237.6,457.6L1236.1,457.6L1234.6,457.6L1233.1,457.6L1231.6,457.6L1230.1,457.6L1228.6,457.6L1227.1,457.7L1225.6,457.7L1224.1,457.7L1222.6,457.8L1221.1,457.8L1219.6,457.9L1218.1,457.9L1216.6,458.0L1215.1,458.1L1213.6,458.2L1212.1,458.2L1210.6,458.3L1209.1,458.4L1207.6,458.5L1206.1,458.6L1204.6,458.7L1203.1,458.8L1201.6,458.9L1200.1,459.0L1198.6,459.1L1197.1,459.3L1195.6,459.4L1194.1,459.5L1192.6,459.7L1191.1,459.8L1189.6,460.0L1188.1,460.1L1186.6,460.3L1185.1,460.5L1183.6,460.6L1182.1,460.8L1180.6,461.0L1179.1,461.2L1177.6,461.4L1176.1,461.5L1174.6,461.7L1173.1,461.9L1171.6,462.1L1170.1,462.3L1168.6,462.5L1167.1,462.6L1165.6,462.8L1164.1,463.0L1162.6,463.2L1161.1,463.4L1159.6,463.6L1158.1,463.8L1156.6,464.0L1155.1,464.2L1153.6,464.4L1152.1,464.6L1150.6,464.8L1149.1,465.1L1147.6,465.3L1146.1,465.5L1144.6,465.7L1143.1,466.0L1141.6,466.2L1140.1,466.4L1138.6,466.7L1137.1,466.9L1135.6,467.1L1134.1,467.3L1132.6,467.6L1131.1,467.8L1129.6,468.0L1128.1,468.3L1126.6,468.5L1125.1,468.7L1123.6,469.0L1122.1,469.2L1120.6,469.4L1119.1,469.6L1117.6,469.7L1116.1,469.9L1114.6,470.0L1113.1,470.2L1111.6,470.3L1110.1,470.5L1108.6,470.6L1107.1,470.8L1105.6,470.9L1104.1,471.0L1102.6,471.2L1101.1,471.3L1099.6,471.5L1098.1,471.6L1096.6,471.7L1095.1,471.9L1093.6,472.0L1092.1,472.1L1090.6,472.3L1089.1,472.4L1087.6,472.6L1086.1,472.7L1084.6,472.9L1083.1,473.1L1081.6,473.3L1080.1,473.5L1078.6,473.8L1077.1,474.1L1075.6,474.3L1074.1,474.6L1072.6,475.0L1071.1,475.3L1069.6,475.6L1068.1,476.0L1066.6,476.3L1065.1,476.7L1063.6,477.1L1062.1,477.5L1060.6,477.9L1059.1,478.3L1057.6,478.8L1056.1,479.2L1054.6,479.7L1053.1,480.2L1051.6,480.6L1050.1,481.1L1048.6,481.6L1047.1,482.0L1045.6,482.5L1044.1,482.9L1042.6,483.4L1041.1,483.9L1039.6,484.3L1038.1,484.8L1036.6,485.3L1035.1,485.7L1033.6,486.2L1032.1,486.6L1030.6,487.1L1029.1,487.5L1027.6,487.9L1026.1,488.3L1024.6,488.7L1023.1,489.1L1021.6,489.5L1020.1,489.9L1018.6,490.3L1017.1,490.7L1015.6,491.1L1014.1,491.4L1012.6,491.8L1011.1,492.2L1009.6,492.5L1008.1,492.9L1006.6,493.3L1005.1,493.6L1003.6,493.9L1002.1,494.3L1000.6,494.6L999.1,494.9L997.6,495.3L996.1,495.6L994.6,496.0L993.1,496.3L991.6,496.7L990.1,497.1L988.6,497.4L987.1,497.8L985.6,498.0L984.1,498.3L982.6,498.4L981.1,498.6L979.6,498.8L978.1,498.9L976.6,499.0L975.1,499.2L973.6,499.3L972.1,499.3L970.6,499.3L969.1,499.3L967.6,499.3L966.1,499.1L964.6,498.9L963.1,498.7L961.6,498.5L960.1,498.2L958.6,497.9L957.1,497.7L955.6,497.5L954.1,497.3L952.6,497.0L951.1,496.8L949.6,496.5L948.1,496.2L946.6,495.9L945.1,495.7L943.6,495.4L942.1,495.1L940.6,494.7L939.1,494.4L937.6,494.0L936.1,493.6L934.6,493.3L933.1,493.0L931.6,492.7L930.1,492.6L928.6,492.4L927.1,492.3L925.6,492.3L924.1,492.2L922.6,492.1L921.1,492.0L919.6,492.0L918.1,492.0L916.6,492.0L915.1,492.0L913.6,492.0L912.1,492.1L910.6,492.2L909.1,492.3L907.6,492.4L906.1,492.6L904.6,492.7L903.1,492.8L901.6,492.9L900.1,493.0L898.6,493.1L897.1,493.2L895.6,493.3L894.1,493.4L892.6,493.5L891.1,493.5L889.6,493.5L888.1,493.5L886.6,493.5L885.1,493.5L883.6,493.4L882.1,493.4L880.6,493.3L879.1,493.3L877.6,493.2L876.1,493.1L874.6,493.0L873.1,492.9L871.6,492.7L870.1,492.5L868.6,492.4L867.1,492.2L865.6,492.0L864.1,491.9L862.6,491.7L861.1,491.6L859.6,491.4L858.1,491.2L856.6,491.0L855.1,490.8L853.6,490.5L852.1,490.1L850.6,489.8L849.1,489.4L847.6,489.0L846.1,488.5L844.6,488.1L843.1,487.7L841.6,487.3L840.1,486.9L838.6,486.6L837.1,486.2L835.6,485.9L834.1,485.6L832.6,485.2L831.1,484.9L829.6,484.6L828.1,484.3L826.6,484.0L825.1,483.7L823.6,483.4L822.1,483.1L820.6,482.8L819.1,482.5L817.6,482.1L816.1,481.8L814.6,481.5L813.1,481.1L811.6,480.8L810.1,480.5L808.6,480.1L807.1,479.8L805.6,479.5L804.1,479.2L802.6,478.9L801.1,478.6L799.6,478.3L798.1,478.1L796.6,477.8L795.1,477.6L793.6,477.3L792.1,477.1L790.6,476.8L789.1,476.6L787.6,476.3L786.1,476.0L784.6,475.7L783.1,475.5L781.6,475.1L780.1,474.8L778.6,474.5L777.1,474.2L775.6,473.8L774.1,473.4L772.6,473.0L771.1,472.6L769.6,472.2L768.1,471.7L766.6,471.3L765.1,470.8L763.6,470.3L762.1,469.9L760.6,469.4L759.1,468.9L757.6,468.4L756.1,467.9L754.6,467.4L753.1,466.9L751.6,466.4L750.1,465.9L748.6,465.4L747.1,465.0L745.6,464.5L744.1,464.0L742.6,463.5L741.1,463.1L739.6,462.6L738.1,462.2L736.6,461.8L735.1,461.5L733.6,461.1L732.1,460.8L730.6,460.4L729.1,460.1L727.6,459.7L726.1,459.3L724.6,458.9L723.1,458.5L721.6,458.1L720.1,457.9L718.6,457.7L717.1,457.5L715.6,457.3L714.1,457.1L712.6,457.0L711.1,456.8L709.6,456.7L708.1,456.6L706.6,456.5L705.1,456.4L703.6,456.3L702.1,456.2L700.6,456.2L699.1,456.1L697.6,456.0L696.1,456.0L694.6,455.9L693.1,455.8L691.6,455.8L690.1,455.7L688.6,455.7L687.1,455.7L685.6,455.6L684.1,455.6L682.6,455.6Z" fill="#7ABCBA" stroke="#2F2F2F" stroke-width="2.9" stroke-linejoin="round"/>
<path d="M683,455.55H865.3M1022.6,455.55H1258" stroke="#2F2F2F" stroke-width="2.9" fill="none"/>
<rect x="865.3" y="438.15" width="157.30" height="34.8" fill="#fff" stroke="#2F2F2F" stroke-width="2.9" stroke-linejoin="round"/>
<path d="M950.0,438.15V472.95" stroke="#2F2F2F" stroke-width="5.6"/>
<circle cx="1261.8" cy="455.55" r="6.5" fill="#2F2F2F"/>
<circle cx="1264.8" cy="455.55" r="6.5" fill="#2F2F2F"/>
<circle cx="1267.8" cy="455.55" r="6.5" fill="#2F2F2F"/>
<circle cx="1270.3" cy="455.55" r="6.5" fill="#2F2F2F"/>
<circle cx="1272.8" cy="455.55" r="6.5" fill="#2F2F2F"/>
<circle cx="1286.8" cy="455.55" r="6.5" fill="#2F2F2F"/>
<circle cx="1299.3" cy="455.55" r="6.5" fill="#2F2F2F"/>
<circle cx="1301.9" cy="455.55" r="6.5" fill="#2F2F2F"/>
<circle cx="1314.7" cy="455.55" r="6.5" fill="#2F2F2F"/>
<circle cx="1317.2" cy="455.55" r="6.5" fill="#2F2F2F"/>
<circle cx="1319.7" cy="455.55" r="6.5" fill="#2F2F2F"/>
<circle cx="1322.5" cy="455.55" r="6.5" fill="#2F2F2F"/>
<circle cx="1325.3" cy="455.55" r="6.5" fill="#2F2F2F"/>
<circle cx="1353.6" cy="455.55" r="6.5" fill="#2F2F2F"/>
<circle cx="1426.8" cy="455.55" r="6.5" fill="#2F2F2F"/>
<path d="M609.5,630.6L611.0,630.6L612.5,630.6L614.0,630.6L615.5,630.6L617.0,630.6L618.5,630.6L620.0,630.6L621.5,630.6L623.0,630.6L624.5,630.6L626.0,630.6L627.5,630.6L629.0,630.6L630.5,630.6L632.0,630.6L633.5,630.6L635.0,630.6L636.5,630.6L638.0,630.6L639.5,630.6L641.0,630.6L642.5,630.6L644.0,630.6L645.5,630.6L647.0,630.6L648.5,630.6L650.0,630.6L651.5,630.6L653.0,630.6L654.5,630.6L656.0,630.6L657.5,630.6L659.0,630.5L660.5,630.5L662.0,630.5L663.5,630.5L665.0,630.5L666.5,630.5L668.0,630.5L669.5,630.5L671.0,630.5L672.5,630.5L674.0,630.5L675.5,630.5L677.0,630.5L678.5,630.5L680.0,630.4L681.5,630.4L683.0,630.4L684.5,630.4L686.0,630.4L687.5,630.4L689.0,630.3L690.5,630.3L692.0,630.3L693.5,630.3L695.0,630.2L696.5,630.2L698.0,630.2L699.5,630.2L701.0,630.1L702.5,630.1L704.0,630.1L705.5,630.1L707.0,630.1L708.5,630.0L710.0,630.0L711.5,630.0L713.0,630.0L714.5,629.9L716.0,629.9L717.5,629.9L719.0,629.9L720.5,629.9L722.0,629.9L723.5,629.8L725.0,629.8L726.5,629.8L728.0,629.8L729.5,629.8L731.0,629.8L732.5,629.8L734.0,629.8L735.5,629.7L737.0,629.7L738.5,629.7L740.0,629.7L741.5,629.7L743.0,629.7L744.5,629.7L746.0,629.7L747.5,629.7L749.0,629.7L750.5,629.7L752.0,629.7L753.5,629.7L755.0,629.7L756.5,629.7L758.0,629.7L759.5,629.7L761.0,629.7L762.5,629.7L764.0,629.7L765.5,629.7L767.0,629.7L768.5,629.7L770.0,629.7L771.5,629.7L773.0,629.7L774.5,629.7L776.0,629.7L777.5,629.7L779.0,629.7L780.5,629.7L782.0,629.7L783.5,629.7L785.0,629.7L786.5,629.7L788.0,629.7L789.5,629.7L791.0,629.6L792.5,629.6L794.0,629.5L795.5,629.4L797.0,629.3L798.5,629.1L800.0,629.0L801.5,628.8L803.0,628.5L804.5,628.3L806.0,628.0L807.5,627.6L809.0,627.0L810.5,626.3L812.0,625.7L813.5,625.1L815.0,624.6L816.5,624.3L818.0,624.0L819.5,623.7L821.0,623.4L822.5,623.1L824.0,622.8L825.5,622.6L827.0,622.4L828.5,622.1L830.0,621.9L831.5,621.7L833.0,621.5L834.5,621.3L836.0,621.1L837.5,620.9L839.0,620.7L840.5,620.5L842.0,620.3L843.5,620.1L845.0,619.9L846.5,619.8L848.0,619.6L849.5,619.4L851.0,619.2L852.5,619.0L854.0,618.8L855.5,618.6L857.0,618.3L858.5,618.1L860.0,617.8L861.5,617.4L863.0,617.1L864.5,616.7L866.0,616.2L867.5,615.8L869.0,615.3L870.5,614.8L872.0,614.2L873.5,613.7L875.0,613.0L876.5,612.4L878.0,611.7L879.5,610.9L881.0,610.2L882.5,609.4L884.0,608.6L885.5,607.8L887.0,606.9L888.5,606.1L890.0,605.2L891.5,604.4L893.0,603.5L894.5,602.7L896.0,601.8L897.5,600.9L899.0,600.0L900.5,599.1L902.0,598.3L903.5,597.5L905.0,596.7L906.5,595.9L908.0,595.2L909.5,594.6L911.0,594.0L912.5,593.4L914.0,592.9L915.5,592.3L917.0,591.8L918.5,591.3L920.0,590.8L921.5,590.3L923.0,589.7L924.5,589.2L926.0,588.6L927.5,588.0L929.0,587.4L930.5,586.8L932.0,586.1L933.5,585.5L935.0,584.8L936.5,584.1L938.0,583.4L939.5,582.7L941.0,581.9L942.5,581.1L944.0,580.3L945.5,579.5L947.0,578.6L948.5,577.6L950.0,576.4L951.5,574.9L953.0,573.0L954.5,570.9L956.0,568.6L957.5,566.4L959.0,564.5L960.5,562.6L962.0,560.7L963.5,558.9L965.0,557.2L966.5,555.8L968.0,554.8L969.5,554.2L971.0,553.6L972.5,553.0L974.0,552.5L975.5,552.2L977.0,551.9L978.5,551.8L980.0,551.8L981.5,552.0L983.0,552.3L984.5,552.8L986.0,553.3L987.5,553.9L989.0,554.5L990.5,555.0L992.0,555.7L993.5,556.4L995.0,557.1L996.5,557.9L998.0,558.7L999.5,559.5L1001.0,560.2L1002.5,560.9L1004.0,561.4L1005.5,561.9L1007.0,562.4L1008.5,562.9L1010.0,563.3L1011.5,563.8L1013.0,564.2L1014.5,564.6L1016.0,565.1L1017.5,565.6L1019.0,566.1L1020.5,566.7L1022.0,567.2L1023.5,567.8L1025.0,568.3L1026.5,568.9L1028.0,569.5L1029.5,570.1L1031.0,570.7L1032.5,571.3L1034.0,571.9L1035.5,572.5L1037.0,573.2L1038.5,573.9L1040.0,574.5L1041.5,575.2L1043.0,575.9L1044.5,576.6L1046.0,577.3L1047.5,578.1L1049.0,578.9L1050.5,579.6L1052.0,580.5L1053.5,581.3L1055.0,582.2L1056.5,583.1L1058.0,584.0L1059.5,585.0L1061.0,585.9L1062.5,587.0L1064.0,588.0L1065.5,589.1L1067.0,590.1L1068.5,591.2L1070.0,592.3L1071.5,593.4L1073.0,594.6L1074.5,595.8L1076.0,597.0L1077.5,598.3L1079.0,599.6L1080.5,600.9L1082.0,602.2L1083.5,603.5L1085.0,604.7L1086.5,606.0L1088.0,607.2L1089.5,608.3L1091.0,609.4L1092.5,610.4L1094.0,611.4L1095.5,612.4L1097.0,613.4L1098.5,614.4L1100.0,615.3L1101.5,616.2L1103.0,617.1L1104.5,618.0L1106.0,618.9L1107.5,619.8L1109.0,620.6L1110.5,621.4L1112.0,622.3L1113.5,623.1L1115.0,623.8L1116.5,624.6L1118.0,625.2L1119.5,625.8L1121.0,626.4L1122.5,626.9L1124.0,627.4L1125.5,627.8L1127.0,628.2L1128.5,628.4L1130.0,628.6L1130.0,632.6L1128.5,632.9L1127.0,633.1L1125.5,633.5L1124.0,633.9L1122.5,634.4L1121.0,634.9L1119.5,635.5L1118.0,636.1L1116.5,636.7L1115.0,637.5L1113.5,638.2L1112.0,639.0L1110.5,639.9L1109.0,640.7L1107.5,641.5L1106.0,642.4L1104.5,643.3L1103.0,644.2L1101.5,645.1L1100.0,646.0L1098.5,646.9L1097.0,647.9L1095.5,648.9L1094.0,649.9L1092.5,650.9L1091.0,651.9L1089.5,653.0L1088.0,654.1L1086.5,655.3L1085.0,656.6L1083.5,657.8L1082.0,659.1L1080.5,660.4L1079.0,661.7L1077.5,663.0L1076.0,664.3L1074.5,665.5L1073.0,666.7L1071.5,667.9L1070.0,669.0L1068.5,670.1L1067.0,671.2L1065.5,672.2L1064.0,673.3L1062.5,674.3L1061.0,675.4L1059.5,676.3L1058.0,677.3L1056.5,678.2L1055.0,679.1L1053.5,680.0L1052.0,680.8L1050.5,681.7L1049.0,682.4L1047.5,683.2L1046.0,684.0L1044.5,684.7L1043.0,685.4L1041.5,686.1L1040.0,686.8L1038.5,687.4L1037.0,688.1L1035.5,688.8L1034.0,689.4L1032.5,690.0L1031.0,690.6L1029.5,691.2L1028.0,691.8L1026.5,692.4L1025.0,693.0L1023.5,693.5L1022.0,694.1L1020.5,694.6L1019.0,695.2L1017.5,695.7L1016.0,696.2L1014.5,696.7L1013.0,697.1L1011.5,697.5L1010.0,698.0L1008.5,698.4L1007.0,698.9L1005.5,699.4L1004.0,699.9L1002.5,700.4L1001.0,701.1L999.5,701.8L998.0,702.6L996.5,703.4L995.0,704.2L993.5,704.9L992.0,705.6L990.5,706.3L989.0,706.8L987.5,707.4L986.0,708.0L984.5,708.5L983.0,709.0L981.5,709.3L980.0,709.5L978.5,709.5L977.0,709.4L975.5,709.1L974.0,708.8L972.5,708.3L971.0,707.7L969.5,707.1L968.0,706.5L966.5,705.5L965.0,704.1L963.5,702.4L962.0,700.6L960.5,698.7L959.0,696.8L957.5,694.9L956.0,692.7L954.5,690.4L953.0,688.3L951.5,686.4L950.0,684.9L948.5,683.7L947.0,682.7L945.5,681.8L944.0,681.0L942.5,680.2L941.0,679.4L939.5,678.6L938.0,677.9L936.5,677.2L935.0,676.5L933.5,675.8L932.0,675.2L930.5,674.5L929.0,673.9L927.5,673.3L926.0,672.7L924.5,672.1L923.0,671.6L921.5,671.0L920.0,670.5L918.5,670.0L917.0,669.5L915.5,669.0L914.0,668.4L912.5,667.9L911.0,667.3L909.5,666.7L908.0,666.1L906.5,665.4L905.0,664.6L903.5,663.8L902.0,663.0L900.5,662.2L899.0,661.3L897.5,660.4L896.0,659.5L894.5,658.6L893.0,657.8L891.5,656.9L890.0,656.0L888.5,655.2L887.0,654.4L885.5,653.5L884.0,652.7L882.5,651.9L881.0,651.1L879.5,650.4L878.0,649.6L876.5,648.9L875.0,648.3L873.5,647.6L872.0,647.1L870.5,646.5L869.0,646.0L867.5,645.5L866.0,645.0L864.5,644.6L863.0,644.2L861.5,643.9L860.0,643.5L858.5,643.2L857.0,643.0L855.5,642.7L854.0,642.5L852.5,642.3L851.0,642.1L849.5,641.9L848.0,641.7L846.5,641.5L845.0,641.4L843.5,641.2L842.0,641.0L840.5,640.8L839.0,640.6L837.5,640.4L836.0,640.2L834.5,640.0L833.0,639.8L831.5,639.6L830.0,639.4L828.5,639.2L827.0,638.9L825.5,638.7L824.0,638.5L822.5,638.2L821.0,637.9L819.5,637.6L818.0,637.3L816.5,637.0L815.0,636.6L813.5,636.2L812.0,635.6L810.5,635.0L809.0,634.3L807.5,633.7L806.0,633.3L804.5,633.0L803.0,632.8L801.5,632.5L800.0,632.3L798.5,632.2L797.0,632.0L795.5,631.9L794.0,631.8L792.5,631.7L791.0,631.7L789.5,631.6L788.0,631.6L786.5,631.6L785.0,631.6L783.5,631.6L782.0,631.6L780.5,631.6L779.0,631.6L777.5,631.6L776.0,631.6L774.5,631.6L773.0,631.6L771.5,631.6L770.0,631.6L768.5,631.6L767.0,631.6L765.5,631.6L764.0,631.6L762.5,631.6L761.0,631.6L759.5,631.6L758.0,631.6L756.5,631.6L755.0,631.6L753.5,631.6L752.0,631.6L750.5,631.6L749.0,631.6L747.5,631.6L746.0,631.6L744.5,631.6L743.0,631.6L741.5,631.6L740.0,631.6L738.5,631.6L737.0,631.6L735.5,631.6L734.0,631.5L732.5,631.5L731.0,631.5L729.5,631.5L728.0,631.5L726.5,631.5L725.0,631.5L723.5,631.5L722.0,631.4L720.5,631.4L719.0,631.4L717.5,631.4L716.0,631.4L714.5,631.4L713.0,631.3L711.5,631.3L710.0,631.3L708.5,631.3L707.0,631.2L705.5,631.2L704.0,631.2L702.5,631.2L701.0,631.2L699.5,631.1L698.0,631.1L696.5,631.1L695.0,631.1L693.5,631.0L692.0,631.0L690.5,631.0L689.0,631.0L687.5,630.9L686.0,630.9L684.5,630.9L683.0,630.9L681.5,630.9L680.0,630.9L678.5,630.8L677.0,630.8L675.5,630.8L674.0,630.8L672.5,630.8L671.0,630.8L669.5,630.8L668.0,630.8L666.5,630.8L665.0,630.8L663.5,630.8L662.0,630.8L660.5,630.8L659.0,630.8L657.5,630.7L656.0,630.7L654.5,630.7L653.0,630.7L651.5,630.7L650.0,630.7L648.5,630.7L647.0,630.7L645.5,630.7L644.0,630.7L642.5,630.7L641.0,630.7L639.5,630.7L638.0,630.7L636.5,630.7L635.0,630.7L633.5,630.7L632.0,630.7L630.5,630.7L629.0,630.7L627.5,630.7L626.0,630.7L624.5,630.7L623.0,630.7L621.5,630.7L620.0,630.7L618.5,630.7L617.0,630.7L615.5,630.7L614.0,630.7L612.5,630.7L611.0,630.7L609.5,630.6Z" fill="#8997B9" stroke="#2F2F2F" stroke-width="2.9" stroke-linejoin="round"/>
<path d="M805,630.65H938.25M1029.25,630.65H1130" stroke="#2F2F2F" stroke-width="2.9" fill="none"/>
<rect x="938.25" y="613.25" width="91.00" height="34.8" fill="#fff" stroke="#2F2F2F" stroke-width="2.9" stroke-linejoin="round"/>
<path d="M983.25,613.25V648.05" stroke="#2F2F2F" stroke-width="5.6"/>
<circle cx="609.5" cy="630.65" r="6.5" fill="#2F2F2F"/>
<circle cx="653.75" cy="630.65" r="6.5" fill="#2F2F2F"/>
<circle cx="688" cy="630.65" r="6.5" fill="#2F2F2F"/>
<circle cx="700" cy="630.65" r="6.5" fill="#2F2F2F"/>
<circle cx="718.75" cy="630.65" r="6.5" fill="#2F2F2F"/>
<circle cx="745.9" cy="630.65" r="6.5" fill="#2F2F2F"/>
<circle cx="750.8" cy="630.65" r="6.5" fill="#2F2F2F"/>
<circle cx="755.8" cy="630.65" r="6.5" fill="#2F2F2F"/>
<circle cx="760.7" cy="630.65" r="6.5" fill="#2F2F2F"/>
<circle cx="765.7" cy="630.65" r="6.5" fill="#2F2F2F"/>
<circle cx="770.6" cy="630.65" r="6.5" fill="#2F2F2F"/>
<circle cx="775.5" cy="630.65" r="6.5" fill="#2F2F2F"/>
<circle cx="780.5" cy="630.65" r="6.5" fill="#2F2F2F"/>
<circle cx="785.4" cy="630.65" r="6.5" fill="#2F2F2F"/>
<circle cx="790.4" cy="630.65" r="6.5" fill="#2F2F2F"/>
<circle cx="795.3" cy="630.65" r="6.5" fill="#2F2F2F"/>
<circle cx="800.2" cy="630.65" r="6.5" fill="#2F2F2F"/>
<path d="M696.2,806.2L697.8,806.2L699.2,806.2L700.8,806.1L702.2,806.1L703.8,806.0L705.2,806.0L706.8,806.0L708.2,805.9L709.8,805.9L711.2,805.8L712.8,805.8L714.2,805.7L715.8,805.7L717.2,805.6L718.8,805.6L720.2,805.5L721.8,805.4L723.2,805.4L724.8,805.3L726.2,805.2L727.8,805.1L729.2,805.1L730.8,805.0L732.2,804.9L733.8,804.8L735.2,804.7L736.8,804.6L738.2,804.4L739.8,804.3L741.2,804.2L742.8,804.0L744.2,803.9L745.8,803.7L747.2,803.5L748.8,803.2L750.2,803.0L751.8,802.8L753.2,802.5L754.8,802.2L756.2,802.0L757.8,801.7L759.2,801.4L760.8,801.1L762.2,800.7L763.8,800.3L765.2,799.9L766.8,799.4L768.2,799.0L769.8,798.5L771.2,798.1L772.8,797.7L774.2,797.3L775.8,796.9L777.2,796.5L778.8,796.1L780.2,795.8L781.8,795.5L783.2,795.1L784.8,794.8L786.2,794.5L787.8,794.2L789.2,793.8L790.8,793.5L792.2,793.2L793.8,792.8L795.2,792.4L796.8,792.0L798.2,791.6L799.8,791.2L801.2,790.7L802.8,790.3L804.2,789.8L805.8,789.4L807.2,788.9L808.8,788.5L810.2,788.0L811.8,787.6L813.2,787.1L814.8,786.7L816.2,786.3L817.8,785.9L819.2,785.4L820.8,785.0L822.2,784.6L823.8,784.2L825.2,783.7L826.8,783.3L828.2,782.9L829.8,782.4L831.2,782.0L832.8,781.5L834.2,781.1L835.8,780.6L837.2,780.2L838.8,779.7L840.2,779.3L841.8,778.8L843.2,778.3L844.8,777.9L846.2,777.4L847.8,776.9L849.2,776.5L850.8,776.0L852.2,775.5L853.8,775.0L855.2,774.5L856.8,774.0L858.2,773.6L859.8,773.1L861.2,772.7L862.8,772.2L864.2,771.8L865.8,771.4L867.2,771.1L868.8,770.8L870.2,770.5L871.8,770.2L873.2,769.9L874.8,769.7L876.2,769.4L877.8,769.3L879.2,769.2L880.8,769.2L882.2,769.3L883.8,769.4L885.2,769.6L886.8,769.8L888.2,770.0L889.8,770.2L891.2,770.5L892.8,770.7L894.2,771.0L895.8,771.2L897.2,771.4L898.8,771.7L900.2,771.9L901.8,772.2L903.2,772.4L904.8,772.7L906.2,773.0L907.8,773.2L909.2,773.5L910.8,773.7L912.2,773.9L913.8,774.2L915.2,774.4L916.8,774.6L918.2,774.9L919.8,775.1L921.2,775.3L922.8,775.6L924.2,775.7L925.8,775.9L927.2,776.1L928.8,776.1L930.2,776.2L931.8,776.2L933.2,776.2L934.8,776.2L936.2,776.2L937.8,776.2L939.2,776.2L940.8,776.2L942.2,776.1L943.8,776.0L945.2,775.8L946.8,775.6L948.2,775.4L949.8,775.2L951.2,775.0L952.8,774.7L954.2,774.4L955.8,774.1L957.2,773.7L958.8,773.4L960.2,772.9L961.8,772.4L963.2,771.9L964.8,771.3L966.2,770.7L967.8,770.1L969.2,769.5L970.8,768.9L972.2,768.3L973.8,767.7L975.2,767.2L976.8,766.7L978.2,766.2L979.8,765.7L981.2,765.3L982.8,764.8L984.2,764.3L985.8,763.9L987.2,763.4L988.8,763.1L990.2,762.7L991.8,762.4L993.2,762.2L994.8,762.0L996.2,761.8L997.8,761.7L999.2,761.5L1000.8,761.4L1002.2,761.2L1003.8,761.1L1005.2,761.0L1006.8,760.8L1008.2,760.7L1009.8,760.7L1011.2,760.6L1012.8,760.5L1014.2,760.5L1015.8,760.4L1017.2,760.4L1018.8,760.4L1020.2,760.4L1021.8,760.4L1023.2,760.4L1024.8,760.4L1026.2,760.4L1027.8,760.4L1029.2,760.4L1030.8,760.4L1032.2,760.4L1033.8,760.4L1035.2,760.4L1036.8,760.4L1038.2,760.4L1039.8,760.4L1041.2,760.4L1042.8,760.5L1044.2,760.5L1045.8,760.5L1047.2,760.6L1048.8,760.6L1050.2,760.7L1051.8,760.7L1053.2,760.9L1054.8,761.1L1056.2,761.4L1057.8,761.7L1059.2,762.0L1060.8,762.4L1062.2,762.8L1063.8,763.1L1065.2,763.6L1066.8,764.1L1068.2,764.7L1069.8,765.3L1071.2,766.0L1072.8,766.6L1074.2,767.3L1075.8,768.0L1077.2,768.7L1078.8,769.4L1080.2,770.1L1081.8,770.9L1083.2,771.7L1084.8,772.5L1086.2,773.3L1087.8,774.2L1089.2,775.0L1090.8,775.8L1092.2,776.6L1093.8,777.4L1095.2,778.2L1096.8,778.9L1098.2,779.6L1099.8,780.3L1101.2,780.9L1102.8,781.5L1104.2,782.0L1105.8,782.6L1107.2,783.1L1108.8,783.7L1110.2,784.3L1111.8,784.9L1113.2,785.5L1114.8,786.1L1116.2,786.7L1117.8,787.3L1119.2,787.9L1120.8,788.4L1122.2,789.0L1123.8,789.5L1125.2,790.0L1126.8,790.5L1128.2,791.0L1129.8,791.5L1131.2,792.0L1132.8,792.5L1134.2,792.9L1135.8,793.3L1137.2,793.7L1138.8,794.0L1140.2,794.3L1141.8,794.6L1143.2,794.9L1144.8,795.2L1146.2,795.4L1147.8,795.7L1149.2,795.9L1150.8,796.1L1152.2,796.4L1153.8,796.6L1155.2,796.8L1156.8,797.0L1158.2,797.2L1159.8,797.4L1161.2,797.7L1162.8,797.9L1164.2,798.1L1165.8,798.3L1167.2,798.5L1168.8,798.8L1170.2,799.0L1171.8,799.2L1173.2,799.4L1174.8,799.6L1176.2,799.9L1177.8,800.1L1179.2,800.3L1180.8,800.5L1182.2,800.8L1183.8,801.0L1185.2,801.2L1186.8,801.5L1188.2,801.7L1189.8,801.9L1191.2,802.2L1192.8,802.4L1194.2,802.6L1195.8,802.9L1197.2,803.1L1198.8,803.3L1200.2,803.5L1201.8,803.7L1203.2,804.0L1204.8,804.2L1206.2,804.4L1207.8,804.6L1209.2,804.7L1210.8,804.9L1212.2,805.1L1213.8,805.3L1215.2,805.4L1216.8,805.6L1218.2,805.6L1219.8,805.6L1221.2,805.7L1222.8,805.7L1224.2,805.7L1225.8,805.7L1227.2,805.8L1228.8,805.8L1230.2,805.8L1231.8,805.8L1233.2,805.9L1234.8,805.9L1236.2,805.9L1237.8,805.9L1239.2,805.9L1240.8,806.0L1242.2,806.0L1243.8,806.0L1245.2,806.0L1246.8,806.0L1248.2,806.0L1249.8,806.0L1251.2,806.1L1252.8,806.1L1254.2,806.1L1255.8,806.1L1257.2,806.1L1258.8,806.1L1260.2,806.1L1261.8,806.1L1263.2,806.1L1264.8,806.1L1266.2,806.2L1267.8,806.2L1269.2,806.2L1270.8,806.2L1272.2,806.2L1273.8,806.2L1275.2,806.2L1276.8,806.2L1278.2,806.2L1279.8,806.2L1281.2,806.2L1282.8,806.2L1284.2,806.2L1285.8,806.2L1287.2,806.2L1288.0,806.2L1288.0,806.2L1287.2,806.2L1285.8,806.2L1284.2,806.2L1282.8,806.2L1281.2,806.2L1279.8,806.2L1278.2,806.2L1276.8,806.2L1275.2,806.2L1273.8,806.2L1272.2,806.2L1270.8,806.2L1269.2,806.2L1267.8,806.2L1266.2,806.2L1264.8,806.3L1263.2,806.3L1261.8,806.3L1260.2,806.3L1258.8,806.3L1257.2,806.3L1255.8,806.3L1254.2,806.3L1252.8,806.3L1251.2,806.3L1249.8,806.4L1248.2,806.4L1246.8,806.4L1245.2,806.4L1243.8,806.4L1242.2,806.4L1240.8,806.4L1239.2,806.5L1237.8,806.5L1236.2,806.5L1234.8,806.5L1233.2,806.5L1231.8,806.6L1230.2,806.6L1228.8,806.6L1227.2,806.6L1225.8,806.7L1224.2,806.7L1222.8,806.7L1221.2,806.7L1219.8,806.8L1218.2,806.8L1216.8,806.8L1215.2,807.0L1213.8,807.1L1212.2,807.3L1210.8,807.5L1209.2,807.7L1207.8,807.8L1206.2,808.0L1204.8,808.2L1203.2,808.4L1201.8,808.7L1200.2,808.9L1198.8,809.1L1197.2,809.3L1195.8,809.5L1194.2,809.8L1192.8,810.0L1191.2,810.2L1189.8,810.5L1188.2,810.7L1186.8,810.9L1185.2,811.2L1183.8,811.4L1182.2,811.6L1180.8,811.9L1179.2,812.1L1177.8,812.3L1176.2,812.5L1174.8,812.8L1173.2,813.0L1171.8,813.2L1170.2,813.4L1168.8,813.6L1167.2,813.9L1165.8,814.1L1164.2,814.3L1162.8,814.5L1161.2,814.7L1159.8,815.0L1158.2,815.2L1156.8,815.4L1155.2,815.6L1153.8,815.8L1152.2,816.0L1150.8,816.3L1149.2,816.5L1147.8,816.7L1146.2,817.0L1144.8,817.2L1143.2,817.5L1141.8,817.8L1140.2,818.1L1138.8,818.4L1137.2,818.7L1135.8,819.1L1134.2,819.5L1132.8,819.9L1131.2,820.4L1129.8,820.9L1128.2,821.4L1126.8,821.9L1125.2,822.4L1123.8,822.9L1122.2,823.4L1120.8,824.0L1119.2,824.5L1117.8,825.1L1116.2,825.7L1114.8,826.3L1113.2,826.9L1111.8,827.5L1110.2,828.1L1108.8,828.7L1107.2,829.3L1105.8,829.8L1104.2,830.4L1102.8,830.9L1101.2,831.5L1099.8,832.1L1098.2,832.8L1096.8,833.5L1095.2,834.2L1093.8,835.0L1092.2,835.8L1090.8,836.6L1089.2,837.4L1087.8,838.2L1086.2,839.1L1084.8,839.9L1083.2,840.7L1081.8,841.5L1080.2,842.3L1078.8,843.0L1077.2,843.7L1075.8,844.4L1074.2,845.1L1072.8,845.8L1071.2,846.4L1069.8,847.1L1068.2,847.7L1066.8,848.3L1065.2,848.8L1063.8,849.3L1062.2,849.6L1060.8,850.0L1059.2,850.4L1057.8,850.7L1056.2,851.0L1054.8,851.3L1053.2,851.5L1051.8,851.7L1050.2,851.7L1048.8,851.8L1047.2,851.8L1045.8,851.9L1044.2,851.9L1042.8,851.9L1041.2,852.0L1039.8,852.0L1038.2,852.0L1036.8,852.0L1035.2,852.0L1033.8,852.0L1032.2,852.0L1030.8,852.0L1029.2,852.0L1027.8,852.0L1026.2,852.0L1024.8,852.0L1023.2,852.0L1021.8,852.0L1020.2,852.0L1018.8,852.0L1017.2,852.0L1015.8,852.0L1014.2,851.9L1012.8,851.9L1011.2,851.8L1009.8,851.7L1008.2,851.7L1006.8,851.6L1005.2,851.4L1003.8,851.3L1002.2,851.2L1000.8,851.0L999.2,850.9L997.8,850.7L996.2,850.6L994.8,850.4L993.2,850.2L991.8,850.0L990.2,849.7L988.8,849.3L987.2,849.0L985.8,848.5L984.2,848.1L982.8,847.6L981.2,847.1L979.8,846.7L978.2,846.2L976.8,845.7L975.2,845.2L973.8,844.7L972.2,844.1L970.8,843.5L969.2,842.9L967.8,842.3L966.2,841.7L964.8,841.1L963.2,840.5L961.8,840.0L960.2,839.5L958.8,839.0L957.2,838.7L955.8,838.3L954.2,838.0L952.8,837.7L951.2,837.4L949.8,837.2L948.2,837.0L946.8,836.8L945.2,836.6L943.8,836.4L942.2,836.3L940.8,836.2L939.2,836.2L937.8,836.2L936.2,836.2L934.8,836.2L933.2,836.2L931.8,836.2L930.2,836.2L928.8,836.3L927.2,836.3L925.8,836.5L924.2,836.7L922.8,836.8L921.2,837.1L919.8,837.3L918.2,837.5L916.8,837.8L915.2,838.0L913.8,838.2L912.2,838.5L910.8,838.7L909.2,838.9L907.8,839.2L906.2,839.4L904.8,839.7L903.2,840.0L901.8,840.2L900.2,840.5L898.8,840.7L897.2,841.0L895.8,841.2L894.2,841.4L892.8,841.7L891.2,841.9L889.8,842.2L888.2,842.4L886.8,842.6L885.2,842.8L883.8,843.0L882.2,843.1L880.8,843.2L879.2,843.2L877.8,843.1L876.2,843.0L874.8,842.7L873.2,842.5L871.8,842.2L870.2,841.9L868.8,841.6L867.2,841.3L865.8,841.0L864.2,840.6L862.8,840.2L861.2,839.7L859.8,839.3L858.2,838.8L856.8,838.4L855.2,837.9L853.8,837.4L852.2,836.9L850.8,836.4L849.2,835.9L847.8,835.5L846.2,835.0L844.8,834.5L843.2,834.1L841.8,833.6L840.2,833.1L838.8,832.7L837.2,832.2L835.8,831.8L834.2,831.3L832.8,830.9L831.2,830.4L829.8,830.0L828.2,829.5L826.8,829.1L825.2,828.7L823.8,828.2L822.2,827.8L820.8,827.4L819.2,827.0L817.8,826.5L816.2,826.1L814.8,825.7L813.2,825.3L811.8,824.8L810.2,824.4L808.8,823.9L807.2,823.5L805.8,823.0L804.2,822.6L802.8,822.1L801.2,821.7L799.8,821.2L798.2,820.8L796.8,820.4L795.2,820.0L793.8,819.6L792.2,819.2L790.8,818.9L789.2,818.6L787.8,818.2L786.2,817.9L784.8,817.6L783.2,817.3L781.8,816.9L780.2,816.6L778.8,816.3L777.2,815.9L775.8,815.5L774.2,815.1L772.8,814.7L771.2,814.3L769.8,813.9L768.2,813.4L766.8,813.0L765.2,812.5L763.8,812.1L762.2,811.7L760.8,811.3L759.2,811.0L757.8,810.7L756.2,810.4L754.8,810.2L753.2,809.9L751.8,809.6L750.2,809.4L748.8,809.2L747.2,808.9L745.8,808.7L744.2,808.5L742.8,808.4L741.2,808.2L739.8,808.1L738.2,808.0L736.8,807.8L735.2,807.7L733.8,807.6L732.2,807.5L730.8,807.4L729.2,807.3L727.8,807.3L726.2,807.2L724.8,807.1L723.2,807.0L721.8,807.0L720.2,806.9L718.8,806.8L717.2,806.8L715.8,806.7L714.2,806.7L712.8,806.6L711.2,806.6L709.8,806.5L708.2,806.5L706.8,806.4L705.2,806.4L703.8,806.4L702.2,806.3L700.8,806.3L699.2,806.2L697.8,806.2L696.2,806.2Z" fill="#8F6798" stroke="#2F2F2F" stroke-width="2.9" stroke-linejoin="round"/>
<path d="M696,806.2H887.3M1051.9,806.2H1288" stroke="#2F2F2F" stroke-width="2.9" fill="none"/>
<rect x="887.3" y="788.80" width="164.60" height="34.8" fill="#fff" stroke="#2F2F2F" stroke-width="2.9" stroke-linejoin="round"/>
<path d="M985.0,788.80V823.60" stroke="#2F2F2F" stroke-width="5.6"/>
<path d="M952.8,911.3V-10" stroke="#EB0000" stroke-width="3.1" stroke-dasharray="11.95 11.88" fill="none"/>
<path d="M405.55,-5V911.3" stroke="#000" stroke-width="3.3" fill="none"/>
<path d="M405.55,911.3H1505" stroke="#000" stroke-width="3.1" fill="none"/>
<path d="M570.15,912V919.7" stroke="#2F2F2F" stroke-width="3"/>
<path d="M761.50,912V919.7" stroke="#2F2F2F" stroke-width="3"/>
<path d="M952.85,912V919.7" stroke="#2F2F2F" stroke-width="3"/>
<path d="M1144.20,912V919.7" stroke="#2F2F2F" stroke-width="3"/>
<path d="M1335.55,912V919.7" stroke="#2F2F2F" stroke-width="3"/>
<path d="M397,104.9H404" stroke="#2F2F2F" stroke-width="3"/>
<path d="M397,280.05H404" stroke="#2F2F2F" stroke-width="3"/>
<path d="M397,455.55H404" stroke="#2F2F2F" stroke-width="3"/>
<path d="M397,630.65H404" stroke="#2F2F2F" stroke-width="3"/>
<path d="M397,806.2H404" stroke="#2F2F2F" stroke-width="3"/>
<text transform="translate(570.00,945.9) scale(1,1.075)" text-anchor="middle" class="tk">-2</text>
<text transform="translate(761.35,945.9) scale(1,1.075)" text-anchor="middle" class="tk">-1</text>
<text transform="translate(952.70,945.9) scale(1,1.075)" text-anchor="middle" class="tk">0</text>
<text transform="translate(1144.05,945.9) scale(1,1.075)" text-anchor="middle" class="tk">1</text>
<text transform="translate(1335.40,945.9) scale(1,1.075)" text-anchor="middle" class="tk">2</text>
<text x="953" y="982.9" text-anchor="middle" class="ttl">SES of All Species Comparisons</text>
<text transform="translate(-1.5,116.6) scale(1,1.04)" class="yl">PCA</text>
<text x="85.47" y="124.1" class="yl sub">All</text>
<text transform="translate(-1.5,288.8) scale(1,1.04)" class="yl">PCA</text>
<text x="85.47" y="296.3" class="yl sub">Spectral</text>
<text transform="translate(-1.5,464.0) scale(1,1.04)" class="yl">PCA</text>
<text x="85.47" y="471.5" class="yl sub">Temporal</text>
<text x="-1.5" y="596.9" class="yl">Spectral</text>
<text x="-1.5" y="641.6" class="yl">Overlap</text>
<text x="-1.5" y="771.3" class="yl">Dominant Frequency</text>
<text x="-1.5" y="816.9" class="yl">Distance</text>
</svg>
</body></html>
